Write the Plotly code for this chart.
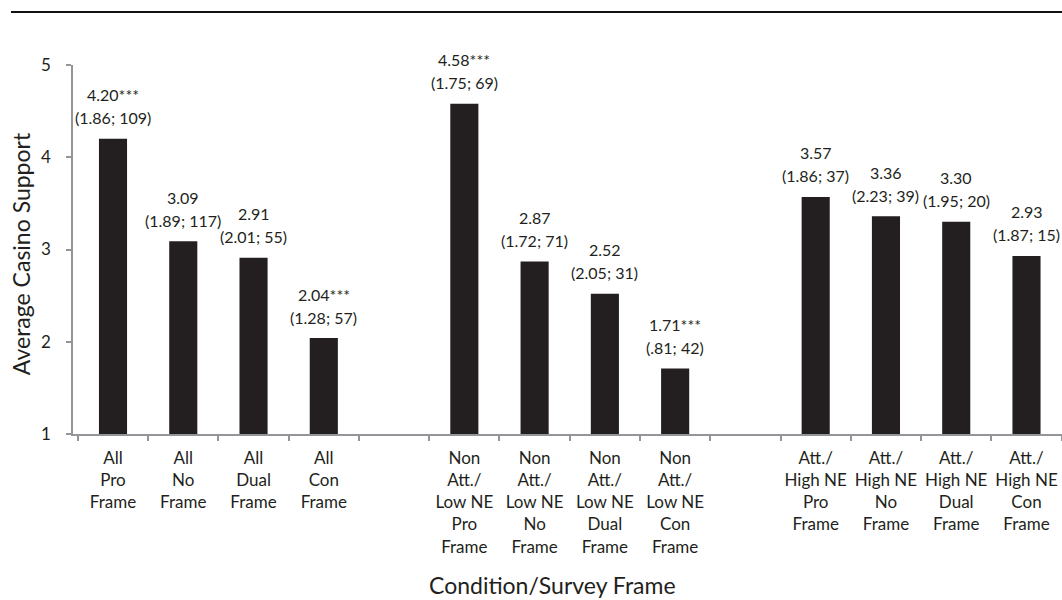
import plotly.graph_objects as go

# ---- data ----
categories = [
    "All<br>Pro<br>Frame", "All<br>No<br>Frame", "All<br>Dual<br>Frame", "All<br>Con<br>Frame",
    " ",
    "Non<br>Att./<br>Low NE<br>Pro<br>Frame", "Non<br>Att./<br>Low NE<br>No<br>Frame",
    "Non<br>Att./<br>Low NE<br>Dual<br>Frame", "Non<br>Att./<br>Low NE<br>Con<br>Frame",
    "  ",
    "Att./<br>High NE<br>Pro<br>Frame", "Att./<br>High NE<br>No<br>Frame",
    "Att./<br>High NE<br>Dual<br>Frame", "Att./<br>High NE<br>Con<br>Frame",
]
means = [4.20, 3.09, 2.91, 2.04, None, 4.58, 2.87, 2.52, 1.71, None, 3.57, 3.36, 3.30, 2.93]
value_labels = ["4.20***", "3.09", "2.91", "2.04***", None, "4.58***", "2.87", "2.52", "1.71***", None,
                "3.57", "3.36", "3.30", "2.93"]
stat_labels = ["(1.86; 109)", "(1.89; 117)", "(2.01; 55)", "(1.28; 57)", None,
               "(1.75; 69)", "(1.72; 71)", "(2.05; 31)", "(.81; 42)", None,
               "(1.86; 37)", "(2.23; 39)", "(1.95; 20)", "(1.87; 15)"]
y_ticks = [1, 2, 3, 4, 5]

TXT = "#231f20"
AX = "#939598"
FONT = "Lato"

base = 1
fig = go.Figure(go.Bar(
    x=categories,
    y=[(m - base) if m is not None else None for m in means],
    base=base,
    marker=dict(color=TXT, line=dict(width=0)),
    hoverinfo="skip",
))

anns = []
for c, m, v, s in zip(categories, means, value_labels, stat_labels):
    if m is None:
        continue
    anns.append(dict(x=c, y=m, xref="x", yref="y", text=s, showarrow=False,
                     yanchor="middle", yshift=21, font=dict(size=16, color=TXT, family=FONT)))
    anns.append(dict(x=c, y=m, xref="x", yref="y", text=v, showarrow=False,
                     yanchor="middle", yshift=44, font=dict(size=16, color=TXT, family=FONT)))

anns.append(dict(x=0.4853, y=-0.409, xref="paper", yref="paper", text="Condition/Survey Frame",
                 showarrow=False, xanchor="center", yanchor="middle",
                 font=dict(size=23, color=TXT, family=FONT)))
anns.append(dict(x=-0.0526, y=0.49, xref="paper", yref="paper", text="Average Casino Support",
                 showarrow=False, xanchor="center", yanchor="middle", textangle=-90,
                 font=dict(size=23, color=TXT, family=FONT)))

fig.update_layout(
    width=1062, height=600,
    margin=dict(l=73, r=0, t=65, b=166),
    paper_bgcolor="white", plot_bgcolor="white",
    showlegend=False,
    bargap=0.6,
    font=dict(family=FONT, color=TXT),
    annotations=anns,
    shapes=[dict(type="line", xref="paper", yref="paper", x0=-0.0627, x1=1.0,
                 y0=1.1436, y1=1.1436, line=dict(color="#111111", width=2))],
    xaxis=dict(
        type="category", categoryorder="array", categoryarray=categories,
        tickson="boundaries", ticks="outside", ticklen=5, tickcolor=AX, tickwidth=1.5,
        showline=True, linecolor=AX, linewidth=1.5, showgrid=False, zeroline=False,
        tickfont=dict(size=17, color=TXT, family=FONT), tickangle=0, ticklabelstandoff=8,
        automargin=False, fixedrange=True,
    ),
    yaxis=dict(
        range=[1, 5], tickvals=y_ticks, ticks="outside", ticklen=5, tickcolor=AX, tickwidth=1.5,
        showline=True, linecolor=AX, linewidth=1.5, showgrid=False, zeroline=False,
        tickfont=dict(size=17, color=TXT, family=FONT), ticklabelstandoff=12,
        automargin=False, fixedrange=True,
    ),
)

fig.write_html(
    "out.html",
    config={"displayModeBar": False},
    post_script="document.body.style.margin='0';document.body.style.overflow='hidden';",
)
